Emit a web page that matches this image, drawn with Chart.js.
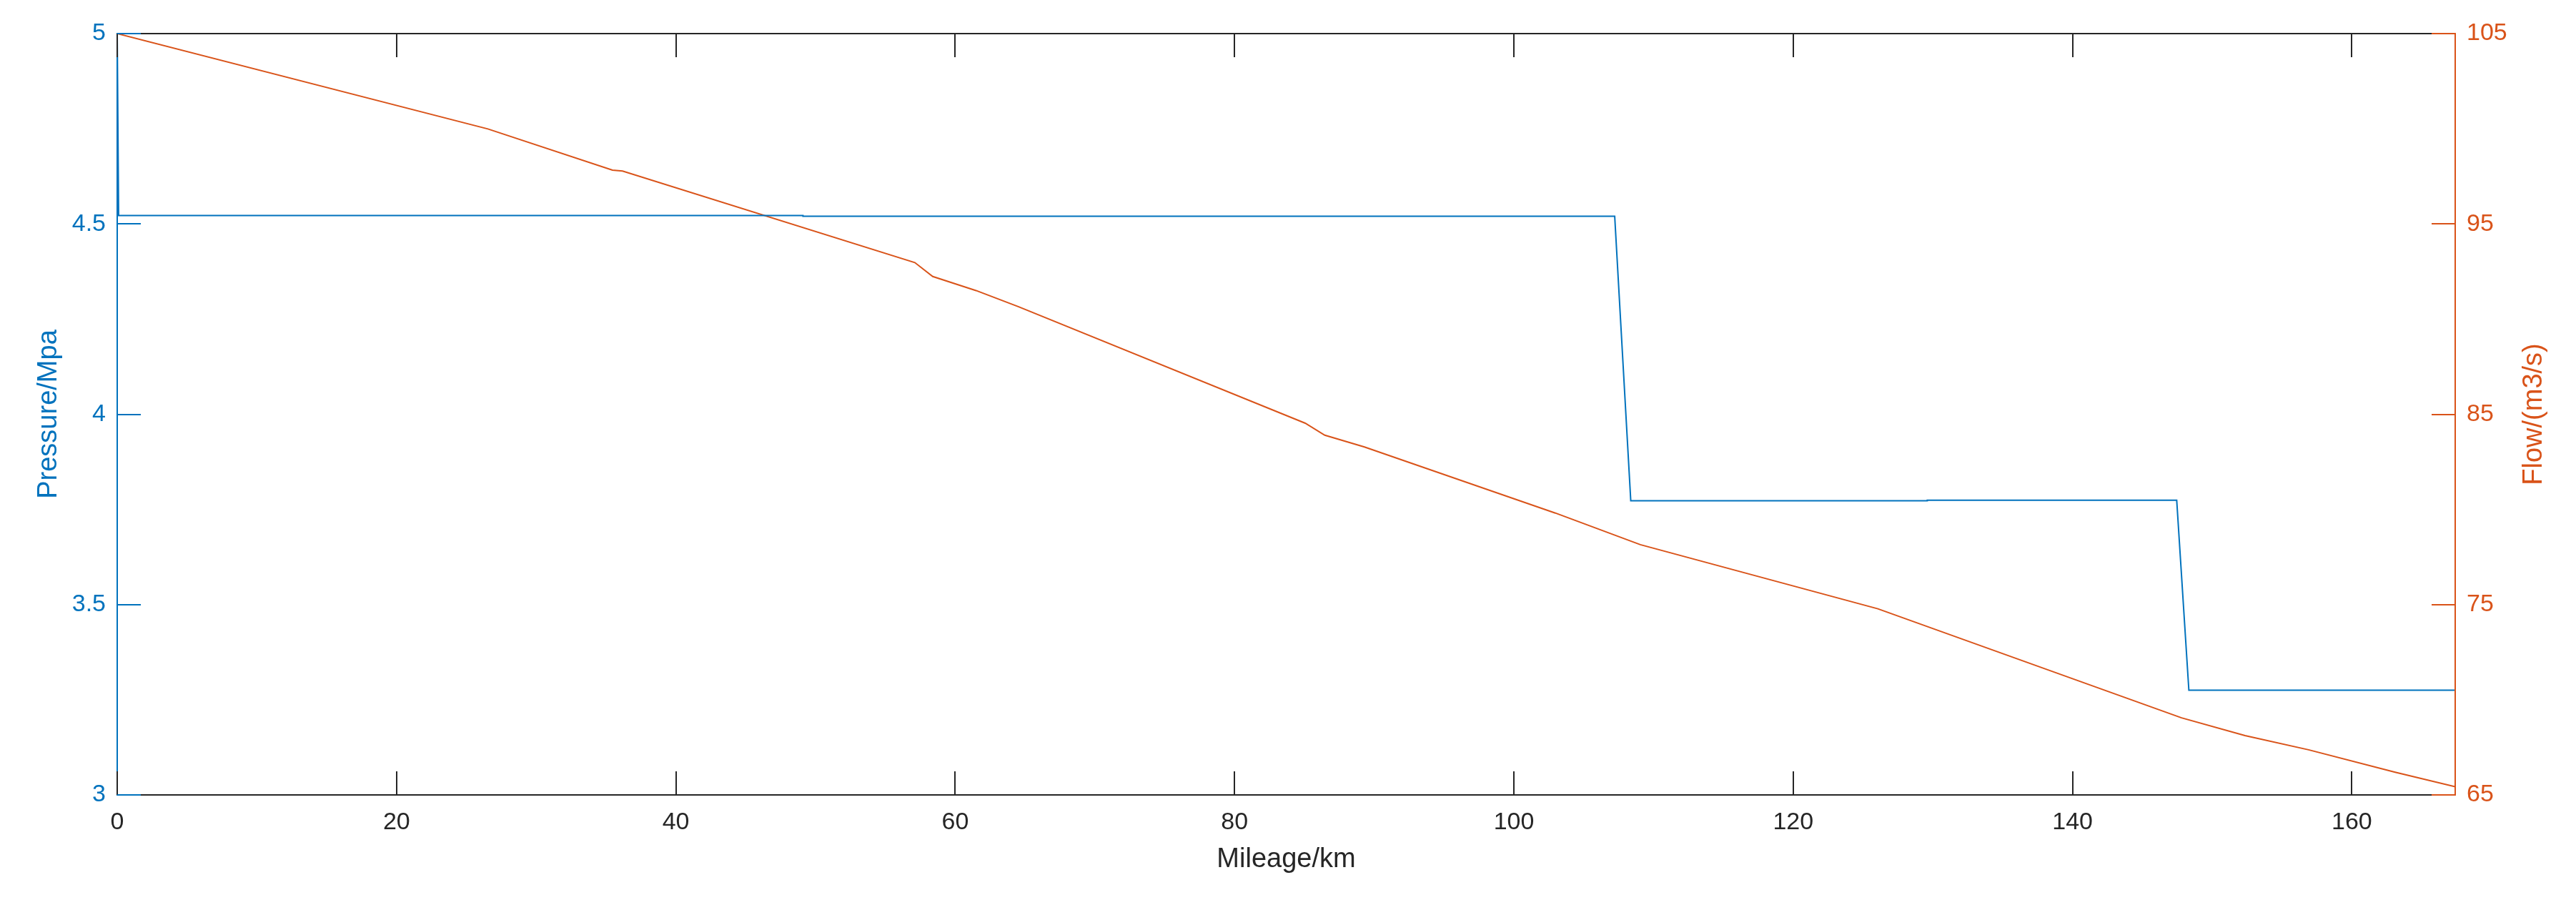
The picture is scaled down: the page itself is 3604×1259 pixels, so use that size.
<!DOCTYPE html>
<html>
<head>
<meta charset="utf-8">
<script src="https://cdn.jsdelivr.net/npm/chart.js@4.4.1/dist/chart.umd.min.js"></script>
<style>
  html, body { margin: 0; padding: 0; background: #ffffff; }
  canvas { display: block; }
</style>
</head>
<body>
<canvas id="myChart" width="3604" height="1259"></canvas>
<script>
// pressure along the line (left axis)
var pressureKm = [0, 0.1, 49.1, 49.1, 107.22, 108.37, 129.6, 129.6, 147.46, 148.33, 167.35];
var pressure = [5, 4.522, 4.522, 4.520, 4.520, 3.773, 3.773, 3.774, 3.774, 3.275, 3.275];

// flow along the line (right axis)
var flowKm = [0, 26.54, 35.46, 36.18, 57.11, 58.39, 61.49, 64.54, 85.06, 86.46, 89.3, 102.97, 109.05, 126.06, 147.8, 152.35, 156.9, 163.1, 167.4];
var flow = [105, 99.99, 97.83, 97.78, 92.97, 92.24, 91.5, 90.65, 84.53, 83.9, 83.28, 79.81, 78.15, 74.78, 69.05, 68.12, 67.37, 66.19, 65.43];

// tick labels
var mileageTicks = [0, 20, 40, 60, 80, 100, 120, 140, 160];
var pressureTicks = [3, 3.5, 4, 4.5, 5];
var flowTicks = [65, 75, 85, 95, 105];

var BLUE = '#0072BD';
var ORANGE = '#D95319';
var DARK = '#262626';
var FONT = '"Liberation Sans", Arial, Helvetica, sans-serif';
var TICK_LEN = 33;

function toPoints(xs, ys) {
    var out = [];
    for (var i = 0; i < xs.length; i++) {
        out.push({x: xs[i], y: ys[i]});
    }
    return out;
}

function fixTicks(values) {
    return function(scale) {
        scale.ticks = values.map(function(v){ return {value: v}; });
    };
}

// matlab style box: inward ticks, top border, axis titles
var matlabBox = {
    id: 'matlabBox',
    afterDraw: function(chart) {
        var ctx = chart.ctx;
        var a = chart.chartArea;
        var sx = chart.scales.x, sy = chart.scales.y, sy1 = chart.scales.y1;
        ctx.save();
        ctx.lineWidth = 2;

        // top border
        ctx.strokeStyle = DARK;
        ctx.beginPath();
        ctx.moveTo(a.left, a.top);
        ctx.lineTo(a.right, a.top);
        ctx.stroke();

        // x ticks, bottom and top
        mileageTicks.forEach(function(v){
            var px = Math.round(sx.getPixelForValue(v));
            ctx.beginPath();
            ctx.moveTo(px, a.bottom);
            ctx.lineTo(px, a.bottom - TICK_LEN);
            ctx.moveTo(px, a.top);
            ctx.lineTo(px, a.top + TICK_LEN);
            ctx.stroke();
        });

        // left ticks
        ctx.strokeStyle = BLUE;
        pressureTicks.forEach(function(v){
            var py = Math.round(sy.getPixelForValue(v));
            ctx.beginPath();
            ctx.moveTo(a.left, py);
            ctx.lineTo(a.left + TICK_LEN, py);
            ctx.stroke();
        });

        // right ticks
        ctx.strokeStyle = ORANGE;
        flowTicks.forEach(function(v){
            var py = Math.round(sy1.getPixelForValue(v));
            ctx.beginPath();
            ctx.moveTo(a.right, py);
            ctx.lineTo(a.right - TICK_LEN, py);
            ctx.stroke();
        });

        // titles
        var midY = (a.top + a.bottom) / 2;
        ctx.font = '38px ' + FONT;
        ctx.textAlign = 'center';
        ctx.textBaseline = 'middle';

        ctx.fillStyle = DARK;
        ctx.fillText('Mileage/km', (a.left + a.right) / 2, a.bottom + 91);

        ctx.fillStyle = BLUE;
        ctx.save();
        ctx.translate(a.left - 95, midY);
        ctx.rotate(-Math.PI / 2);
        ctx.fillText('Pressure/Mpa', 0, 0);
        ctx.restore();

        ctx.fillStyle = ORANGE;
        ctx.save();
        ctx.translate(a.right + 111, midY);
        ctx.rotate(-Math.PI / 2);
        ctx.fillText('Flow/(m3/s)', 0, 0);
        ctx.restore();

        ctx.restore();
    }
};

var ctx = document.getElementById("myChart");
var myChart = new Chart(ctx, {
    type: 'line',
    data: {
        datasets: [{
            label: 'Pressure',
            data: toPoints(pressureKm, pressure),
            borderColor: BLUE,
            borderWidth: 2,
            pointRadius: 0,
            tension: 0,
            yAxisID: 'y'
        }, {
            label: 'Flow',
            data: toPoints(flowKm, flow),
            borderColor: ORANGE,
            borderWidth: 2,
            pointRadius: 0,
            tension: 0,
            yAxisID: 'y1'
        }]
    },
    options: {
        responsive: false,
        animation: false,
        devicePixelRatio: 1,
        layout: { padding: { top: 47, left: 0, right: 0, bottom: 0 } },
        plugins: {
            legend: { display: false },
            tooltip: { enabled: false }
        },
        scales: {
            x: {
                type: 'linear',
                min: 0,
                max: 167.4,
                afterBuildTicks: fixTicks(mileageTicks),
                afterFit: function(s){ s.height = 147; },
                grid: { display: false, drawTicks: false },
                border: { display: true, color: DARK, width: 2 },
                ticks: {
                    color: DARK,
                    padding: 18,
                    maxRotation: 0,
                    autoSkip: false,
                    font: { family: FONT, size: 34 },
                    callback: function(v){ return String(v); }
                }
            },
            y: {
                type: 'linear',
                position: 'left',
                min: 3,
                max: 5,
                afterBuildTicks: fixTicks(pressureTicks),
                afterFit: function(s){ s.width = 164; },
                grid: { display: false, drawTicks: false },
                border: { display: true, color: BLUE, width: 2 },
                ticks: {
                    color: BLUE,
                    padding: 16,
                    font: { family: FONT, size: 34 },
                    callback: function(v){ return String(v); }
                }
            },
            y1: {
                type: 'linear',
                position: 'right',
                min: 65,
                max: 105,
                afterBuildTicks: fixTicks(flowTicks),
                afterFit: function(s){ s.width = 169; },
                grid: { display: false, drawTicks: false },
                border: { display: true, color: ORANGE, width: 2 },
                ticks: {
                    color: ORANGE,
                    padding: 16,
                    font: { family: FONT, size: 34 },
                    callback: function(v){ return String(v); }
                }
            }
        }
    },
    plugins: [matlabBox]
});
</script>
</body>
</html>
